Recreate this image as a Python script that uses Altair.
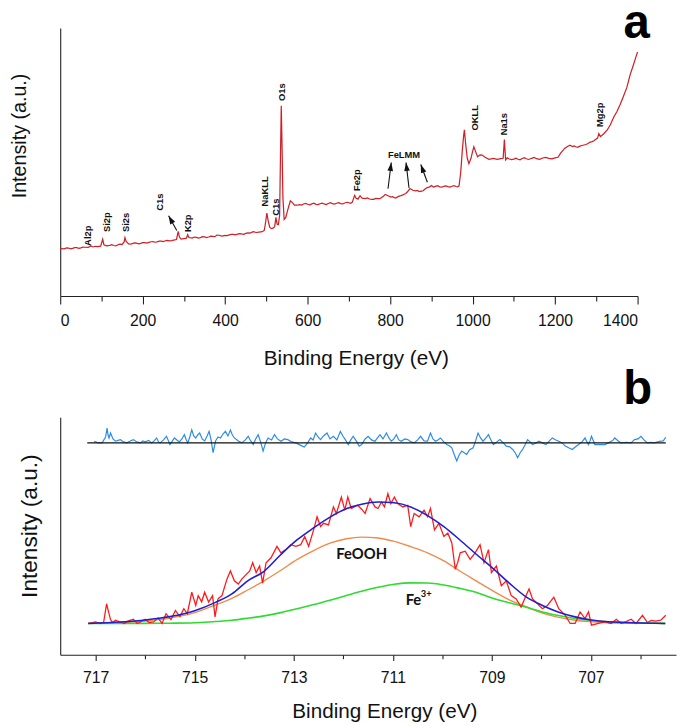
import altair as alt
import pandas as pd

# ---------------- Panel a : XPS survey ----------------
survey_e = [0, 10, 20, 30, 40, 50, 60, 68, 74, 80, 90, 98, 103, 106, 112, 120, 130, 140, 150, 155,
            157, 160, 166, 175, 185, 195, 205, 215, 225, 235, 245, 255, 265, 275, 282, 286, 289, 293, 300, 306,
            309, 312, 320, 330, 340, 350, 360, 370, 380, 385, 392, 400, 410, 420, 430, 440, 450, 460, 468, 475,
            482, 490, 495, 498, 501, 504, 508, 512, 516, 520, 523, 526, 529, 532, 534, 536, 538, 540, 543, 547,
            552, 558, 563, 568, 574, 580, 590, 600, 610, 620, 630, 640, 650, 660, 670, 680, 690, 700, 708, 712,
            714, 717, 722, 727, 732, 740, 750, 760, 770, 780, 788, 795, 802, 810, 818, 826, 834, 842, 848, 855,
            862, 870, 876, 884, 892, 900, 910, 920, 930, 940, 950, 960, 967, 971, 975, 978, 980, 983, 987, 991,
            996, 1000, 1003, 1007, 1012, 1018, 1023, 1030, 1040, 1050, 1060, 1068, 1074, 1077, 1080, 1088, 1100, 1110, 1120, 1130,
            1143, 1155, 1170, 1185, 1200, 1207, 1213, 1218, 1223, 1230, 1236, 1242, 1250, 1260, 1270, 1280, 1290, 1298, 1303, 1306,
            1310, 1318, 1326, 1334, 1342, 1350, 1358, 1366, 1374, 1382, 1390, 1396, 1400,
            15, 25, 35, 45, 55, 85, 125, 135, 145, 170, 180, 190, 200, 210, 220, 230, 240, 250, 260, 270,
            325, 335, 345, 355, 365, 375, 405, 415, 425, 435, 445, 455,
            585, 595, 605, 615, 625, 635, 645, 655, 665, 675, 685, 695, 704,
            745, 755, 765, 775, 784, 806, 814, 822, 830, 838, 866, 880, 888, 896,
            905, 915, 925, 935, 945, 955, 963,
            1084, 1094, 1105, 1115, 1125, 1136, 1149, 1162, 1177, 1192,
            1246, 1255, 1265, 1275, 1285, 1294]
survey_i = [48.3, 48.0, 48.8, 48.5, 49.2, 49.0, 49.6, 49.4, 51.0, 49.9, 50.3, 50.8, 57.7, 52.0, 51.0, 51.6, 51.4, 52.2, 52.4, 55.0,
            59.3, 55.5, 53.0, 53.3, 53.8, 53.6, 54.4, 54.6, 55.3, 55.1, 55.9, 56.2, 56.0, 56.9, 57.5, 65.7, 60.0, 57.8, 58.4, 58.8,
            62.3, 59.5, 59.0, 59.6, 59.4, 60.2, 60.0, 60.6, 62.0, 61.8, 61.0, 61.7, 62.1, 62.6, 62.9, 63.1, 63.7, 64.0, 65.5, 64.6,
            65.0, 65.4, 67.0, 75.0, 84.3, 77.0, 70.0, 68.5, 69.0, 70.5, 80.0, 73.0, 72.5, 82.0, 140.0, 193.3, 150.0, 100.0, 78.0, 80.0,
            88.0, 96.7, 95.0, 92.5, 92.3, 93.0, 93.6, 93.3, 93.7, 93.2, 93.8, 93.6, 94.1, 93.9, 94.3, 94.0, 94.6, 94.8, 95.2, 100.0,
            102.3, 99.5, 98.5, 102.0, 99.5, 99.0, 98.6, 98.3, 99.0, 100.5, 103.3, 102.0, 100.5, 100.0, 100.8, 102.0, 103.5, 106.0, 109.3, 107.5,
            107.0, 106.2, 106.7, 108.5, 110.5, 112.3, 111.5, 111.0, 111.4, 111.2, 111.6, 111.3, 111.7, 125.0, 148.0, 162.0, 169.0, 155.0, 140.0, 134.5,
            140.0, 147.0, 151.7, 147.0, 141.5, 143.5, 143.3, 141.0, 139.0, 139.8, 138.9, 139.6, 140.0, 159.0, 138.3, 139.5, 139.2, 139.0, 139.8, 139.5,
            140.0, 139.6, 140.3, 140.0, 140.5, 141.0, 145.0, 147.5, 150.0, 152.0, 153.3, 152.0, 151.7, 152.3, 153.5, 155.0, 157.0, 159.0, 160.5, 165.0,
            162.0, 165.0, 168.5, 174.0, 181.7, 187.5, 195.0, 203.3, 212.0, 225.0, 235.0, 243.0, 248.0,
            49.0, 47.9, 49.3, 48.6, 49.8, 50.6, 52.2, 51.0, 52.8, 52.7, 54.0, 53.1, 54.3, 53.9, 55.2, 54.7, 55.8, 55.4, 56.5, 56.3,
            60.0, 59.0, 60.3, 59.5, 60.8, 60.4, 61.4, 62.6, 62.3, 63.5, 62.8, 64.2,
            92.4, 94.2, 92.8, 94.3, 92.9, 94.5, 93.0, 94.8, 93.5, 95.0, 93.6, 95.3, 94.2,
            99.7, 98.2, 99.3, 98.9, 101.5, 100.9, 99.6, 101.6, 102.6, 104.2, 107.4, 107.0, 109.8, 111.0,
            110.8, 112.2, 110.6, 112.0, 110.7, 112.1, 110.9,
            140.4, 138.6, 140.2, 138.5, 140.6, 138.8, 140.8, 139.0, 141.0, 139.4,
            152.6, 151.2, 153.0, 154.0, 156.5, 157.8]

peak_labels = ["Al2p", "Si2p", "Si2s", "C1s", "K2p", "NaKLL", "C1s", "O1s", "Fe2p", "OKLL", "Na1s", "Mg2p"]
peak_label_e = [67, 113, 159, 243, 310.6, 497.6, 523, 539, 720.6, 1005, 1077, 1310]
peak_label_i = [51, 65, 65, 86.7, 65, 91, 81.7, 198.3, 106.7, 168.3, 163.3, 171.7]

group_label = ["FeLMM"]
group_label_e = [833.7]
group_label_i = [143.3]

arrow_e1 = [282.6, 794.8, 845.7, 890.3]
arrow_i1 = [66.7, 109.0, 110.0, 115.7]
arrow_e2 = [262.8, 802.7, 838.5, 874.3]
arrow_i2 = [81.7, 135.7, 135.7, 133.7]
arrow_angle = [331, 7, 353, 340]

panel_letters = ["a", "b"]
panel_letter_e = [1397.6, 1400]
panel_letter_i = [262, -110]

# ---------------- Panel b : Fe 2p3/2 high resolution ----------------
raw_e = [717.15, 717.08, 717.0, 716.92, 716.84, 716.78, 716.74, 716.7, 716.66, 716.6, 716.5, 716.42, 716.35, 716.24, 716.16,
         716.08, 716.0, 715.92, 715.83, 715.74, 715.66, 715.58, 715.48, 715.39, 715.3, 715.22, 715.15, 715.06, 714.98, 714.93,
         714.86, 714.8, 714.72, 714.64, 714.59, 714.53, 714.45, 714.35, 714.28, 714.2, 714.12, 714.05, 713.99, 713.89, 713.83,
         713.76, 713.69, 713.63, 713.56, 713.46, 713.34, 713.26, 713.16, 713.06, 712.96, 712.86, 712.78, 712.7, 712.6, 712.53,
         712.46, 712.4, 712.3, 712.2, 712.14, 712.04, 711.97, 711.91, 711.84, 711.71, 711.63, 711.56, 711.46, 711.36, 711.3,
         711.23, 711.17, 711.1, 711.04, 710.97, 710.9, 710.8, 710.7, 710.64, 710.57, 710.47, 710.37, 710.3, 710.24, 710.16,
         710.07, 709.97, 709.89, 709.81, 709.74, 709.69, 709.64, 709.54, 709.44, 709.34, 709.24, 709.16, 709.07, 709.01, 708.91,
         708.81, 708.71, 708.61, 708.51, 708.41, 708.31, 708.25, 708.18, 708.08, 707.98, 707.88, 707.75, 707.65, 707.52, 707.42,
         707.32, 707.22, 707.12, 707.05, 706.99, 706.85, 706.72, 706.59, 706.49, 706.39, 706.29, 706.19, 706.09, 705.96, 705.86,
         705.78, 705.69, 705.59, 705.49]
raw_i = [0, 0.5, 1.7, 0, 1, 20, 11.7, 4, 1, 3.3, 1.5, 0, 2.5, 4.3, 0,
         2, 4.3, 1, 1.5, 5.7, 0, 10, 4, 13.3, 7, 15, 10, 31.7, 18.3, 28.3,
         22, 31.7, 21.7, 28.3, 6.7, 25, 28.3, 45, 53.3, 43.3, 40, 45, 48.3, 53.3, 61.7,
         51.7, 58.3, 41, 61.7, 66.7, 78.3, 71.7, 75, 80, 78.3, 80, 88.3, 78.3, 95, 108.3,
         98.3, 101.7, 100, 118.3, 111.7, 128.3, 115, 128.3, 116.7, 120, 116, 111.7, 126.7, 118.3, 116.7,
         123.3, 118.3, 131.7, 121.7, 128.3, 121.7, 118.3, 120, 98.3, 111.7, 108.3, 115, 108.3, 116.7, 95,
         101.7, 88.3, 91.7, 81.7, 55, 62, 71.7, 73.3, 65, 71.7, 80, 61.7, 75, 51.7, 58.3,
         38.3, 43.3, 28.3, 25, 16.7, 28.3, 35, 25, 20, 15, 18.3, 26.7, 15, 8.3, 0,
         0, 11.7, 5, 11.7, -1.7, 0, 1.7, 0, 4.3, 0, 2, 4.3, 0, 8.3, 1,
         3, 2.3, 3.3, 8.3]

fit_e = [717.15, 716.5, 716.0, 715.5, 715.0, 714.57, 714.25, 713.93, 713.6, 713.26, 712.93, 712.6, 712.27, 711.94, 711.63, 711.3,
         710.97, 710.64, 710.3, 709.97, 709.64, 709.31, 708.98, 708.65, 708.31, 707.98, 707.65, 707.32, 706.99, 706.65, 706.0, 705.5]
envelope_i = [0, 1.5, 3.5, 7, 13, 21.7, 30, 43.3, 53, 70, 85, 97, 108, 116.5, 121, 123.3,
              122.5, 118.3, 109.5, 98.3, 84.5, 70, 56, 41, 27, 18.3, 11.5, 6.7, 3.5, 1.7, 0.5, 0]
feooh_i = [0.3, 1, 2.5, 5.5, 11, 19, 25.5, 34, 43.3, 54, 65, 74, 81.5, 86, 87.7, 86.8,
           83.3, 78, 71.7, 63.5, 53, 43, 33, 24, 17, 10.5, 6.2, 3.3, 1.8, 0.8, 0.2, 0]
fe3_i = [0, 0, 0.1, 0.3, 0.8, 2, 3.3, 5.3, 7.7, 11, 15, 19.2, 23.5, 28.5, 32.8, 36.7,
         39.8, 41.2, 41, 39, 35.5, 31.5, 25.5, 21, 16.5, 11.7, 8, 5, 3, 1.7, 0.5, 0.1]

residual_offset = 183.3
resid_e = [717.03, 716.95, 716.87, 716.8, 716.77, 716.75, 716.73, 716.7, 716.65, 716.6, 716.55, 716.5, 716.44, 716.37, 716.3,
           716.24, 716.17, 716.1, 716.05, 716.0, 715.93, 715.87, 715.82, 715.77, 715.73, 715.7, 715.63, 715.57, 715.53, 715.5,
           715.45, 715.41, 715.36, 715.31, 715.26, 715.21, 715.17, 715.14, 715.1, 715.06, 715.02, 714.98, 714.94, 714.9, 714.85,
           714.8, 714.75, 714.71, 714.67, 714.63, 714.6, 714.58, 714.53, 714.48, 714.43, 714.38, 714.33, 714.28, 714.24, 714.2,
           714.12, 714.05, 713.98, 713.92, 713.87, 713.82, 713.77, 713.72, 713.67, 713.62, 713.57, 713.52, 713.45, 713.39, 713.33,
           713.26, 713.19, 713.12, 713.04, 712.96, 712.88, 712.79, 712.72, 712.66, 712.61, 712.56, 712.51, 712.46, 712.4, 712.33,
           712.27, 712.2, 712.13, 712.06, 712.01, 711.96, 711.9, 711.85, 711.8, 711.74, 711.68, 711.63, 711.56, 711.5, 711.43,
           711.36, 711.31, 711.26, 711.2, 711.13, 711.08, 711.03, 710.98, 710.93, 710.88, 710.83, 710.76, 710.7, 710.63, 710.57,
           710.5, 710.44, 710.37, 710.3, 710.27, 710.24, 710.19, 710.14, 710.09, 710.04, 709.97, 709.91, 709.86, 709.81, 709.76,
           709.71, 709.66, 709.61, 709.56, 709.51, 709.45, 709.38, 709.33, 709.28, 709.23, 709.18, 709.12, 709.07, 709.02, 708.97,
           708.9, 708.84, 708.77, 708.71, 708.64, 708.58, 708.53, 708.48, 708.43, 708.38, 708.33, 708.28, 708.23, 708.18, 708.11,
           708.05, 707.98, 707.91, 707.84, 707.78, 707.71, 707.65, 707.58, 707.52, 707.45, 707.38, 707.31, 707.25, 707.18, 707.12,
           707.08, 707.05, 707.02, 706.99, 706.95, 706.92, 706.82, 706.72, 706.65, 706.59, 706.55, 706.52, 706.45, 706.39, 706.29,
           706.19, 706.15, 706.12, 706.05, 705.99, 705.93, 705.86, 705.79, 705.72, 705.65, 705.59, 705.54, 705.49]
resid_i = [1.7, 0, 0, 6, 15, 8, 5, 10, 4, 1.7, 2.5, 3.3, 1, 0, 2,
           3.3, 1, 0, 2, 1, 2.5, 0, 2, 5, 1, 0, 3, 6.7, 2, -1.7,
           2, 5, 3, 1, 4, 8.3, 3, 0, 6, 13.3, 7, 5, 8, 10, 4,
           2, 7, 11.7, 3, -10, -3, 2, 6, 5, 9, 11.7, 7, 13, 8, 5,
           2, 0, 3, 6.7, 2, -1.7, 4, 8.3, 1, -8.3, 0, 5, 3, 8.3, 4,
           1.7, 4, 3.3, 1, 0, -2, -4.3, 0, 5, 3, 10, 6, 3.3, 7, 10,
           4, 6.7, 3, 11.7, 7, 3.3, -1.7, 3, 6.7, 2, -3.3, -1.7, 4, 6.7, 3,
           1.7, 5, 8.3, 4, 10, 5, 1.7, 4, 8.3, 3, 1.7, 4, 3.3, 1, 0,
           3, 6.7, 2, 1.7, 6, 10, 4, 1.7, 3, 5, 1, -1.7, -3, -5, -12,
           -18.3, -12, -8.3, -10, -11.7, -7, -5, 2, 10, 5, 1.7, 5, 8.3, 3, -1.7,
           1, 3.3, 0, -3.3, -4, -6.7, -10, -15, -10, -6.7, -2, 3.3, 1, -1.7, 0,
           1.7, 0, -1.7, 2, 5, 3, 1.7, 0, -3.3, -5, -6.7, -4, -1.7, 1, 5,
           1, -1.7, 2, 6.7, 2, -1.7, -1.7, -1.7, 0, 1.7, 3, 5, 2, 0, 0.5,
           0, 2, 3.3, 4, 6.7, 3, 0, 0.5, 0, 1, 1.7, 2, 5.7]
zero_line_e = [717.17, 705.49]

fit_labels = ["FeOOH", "Fe"]
fit_label_e = [711.63, 710.585]
fit_label_i = [65, 18.3]
sup_label = ["3+"]
sup_label_e = [710.435]
sup_label_i = [26.7]

# ---------------- tables ----------------
survey_df = pd.DataFrame({"e": survey_e, "i": survey_i})
plab_df = pd.DataFrame({"e": peak_label_e, "i": peak_label_i, "t": peak_labels})
glab_df = pd.DataFrame({"e": group_label_e, "i": group_label_i, "t": group_label})
arrow_df = pd.DataFrame({"e": arrow_e1, "i": arrow_i1, "e2": arrow_e2, "i2": arrow_i2, "ang": arrow_angle})
arrowhead_df = pd.DataFrame({"e": arrow_e2, "i": arrow_i2, "ang": arrow_angle})
letter_df = pd.DataFrame({"e": panel_letter_e, "i": panel_letter_i, "t": panel_letters})

raw_df = pd.DataFrame({"e": raw_e, "i": raw_i})
env_df = pd.DataFrame({"e": fit_e, "i": envelope_i})
feooh_df = pd.DataFrame({"e": fit_e, "i": feooh_i})
fe3_df = pd.DataFrame({"e": fit_e, "i": fe3_i})
resid_df = pd.DataFrame({"e": resid_e, "i": [residual_offset + v for v in resid_i]})
zero_df = pd.DataFrame({"e": zero_line_e, "i": [residual_offset] * len(zero_line_e)})
flab_df = pd.DataFrame({"e": fit_label_e, "i": fit_label_i, "t": fit_labels})
sup_df = pd.DataFrame({"e": sup_label_e, "i": sup_label_i, "t": sup_label})

FONT = "Liberation Sans"

# ---------------- panel a encodings ----------------
top_xaxis = alt.Axis(values=list(range(0, 1401, 100)), format="d",
                     labelExpr="datum.value % 200 === 0 ? datum.label : ''",
                     tickSize={"condition": {"test": "datum.value % 200 === 0", "value": 8}, "value": 5},
                     labelFontSize=16, labelPadding=9, title="Binding Energy (eV)", titleFontSize=21,
                     titlePadding=19, titleX=300, titleAlign="center")
top_yaxis = alt.Axis(ticks=False, labels=False, title="Intensity (a.u.)", titleFontSize=20,
                     titleAngle=270, titleX=-31, titleY=109, titleAlign="center", titleBaseline="bottom")
top_xscale = alt.Scale(domain=[0, 1400], nice=False, zero=False)
top_yscale = alt.Scale(domain=[0, 272.3], nice=False, zero=False)


def tx(field="e"):
    return alt.X(f"{field}:Q", scale=top_xscale, axis=top_xaxis)


def ty(field="i"):
    return alt.Y(f"{field}:Q", scale=top_yscale, axis=top_yaxis)


survey_line = alt.Chart(survey_df).mark_line(color="#cf2027", strokeWidth=1.25).encode(x=tx(), y=ty())
peak_text = alt.Chart(plab_df).mark_text(angle=270, align="left", baseline="middle", fontSize=9.5,
                                         fontWeight="bold", font=FONT, color="#111").encode(x=tx(), y=ty(), text="t:N")
group_text = alt.Chart(glab_df).mark_text(align="center", baseline="middle", fontSize=9.5,
                                          fontWeight="bold", font=FONT, color="#111").encode(x=tx(), y=ty(), text="t:N")
arrow_shaft = alt.Chart(arrow_df).mark_rule(color="#111", strokeWidth=1.1).encode(
    x=tx(), y=ty(), x2=alt.X2("e2:Q"), y2=alt.Y2("i2:Q"))
arrow_head = alt.Chart(arrowhead_df).mark_point(shape="M0,0L0.6,1.8L-0.6,1.8Z", filled=True, size=90,
                                                color="#111", opacity=1).encode(
    x=tx(), y=ty(), angle=alt.Angle("ang:Q", scale=None))
letters = alt.Chart(letter_df).mark_text(align="center", baseline="alphabetic", fontSize=48,
                                         fontWeight="bold", font=FONT, color="#000").encode(x=tx(), y=ty(), text="t:N")

top = alt.layer(survey_line, peak_text, group_text, arrow_shaft, arrow_head, letters).properties(width=586, height=272)

# ---------------- panel b encodings ----------------
bot_xaxis = alt.Axis(values=list(range(706, 718)), format="d",
                     labelExpr="datum.value % 2 === 1 ? datum.label : ''",
                     tickSize={"condition": {"test": "datum.value % 2 === 1", "value": 6}, "value": 4},
                     labelFontSize=16, labelPadding=9, title="Binding Energy (eV)", titleFontSize=21,
                     titlePadding=16, titleX=329, titleAlign="center")
bot_yaxis = alt.Axis(ticks=False, labels=False, title="Intensity (a.u.)", titleFontSize=23,
                     titleAngle=270, titleX=-19, titleY=110, titleAlign="center", titleBaseline="bottom")
bot_xscale = alt.Scale(domain=[705.283, 717.716], nice=False, zero=False, reverse=True)
bot_yscale = alt.Scale(domain=[-31.7, 209.3], nice=False, zero=False)


def bx(field="e"):
    return alt.X(f"{field}:Q", scale=bot_xscale, axis=bot_xaxis)


def by(field="i"):
    return alt.Y(f"{field}:Q", scale=bot_yscale, axis=bot_yaxis)


feooh_line = alt.Chart(feooh_df).mark_line(color="#f08a4b", strokeWidth=1.4, interpolate="monotone").encode(x=bx(), y=by())
fe3_line = alt.Chart(fe3_df).mark_line(color="#2edb2e", strokeWidth=1.6, interpolate="monotone").encode(x=bx(), y=by())
raw_line = alt.Chart(raw_df).mark_line(color="#ff1a1a", strokeWidth=1.3).encode(x=bx(), y=by())
env_line = alt.Chart(env_df).mark_line(color="#1f1fcf", strokeWidth=1.6, interpolate="monotone").encode(x=bx(), y=by())
resid_line = alt.Chart(resid_df).mark_line(color="#2b8be6", strokeWidth=1.2).encode(x=bx(), y=by())
zero_line = alt.Chart(zero_df).mark_line(color="#111", strokeWidth=1.3).encode(x=bx(), y=by())
fit_text = alt.Chart(flab_df).mark_text(align="center", baseline="alphabetic", fontSize=15, fontWeight="bold",
                                        font="Lato", color="#111").encode(x=bx(), y=by(), text="t:N")
sup_text = alt.Chart(sup_df).mark_text(align="left", baseline="alphabetic", fontSize=9.5, fontWeight="bold",
                                       font="Lato", color="#111").encode(x=bx(), y=by(), text="t:N")

bottom = alt.layer(feooh_line, fe3_line, raw_line, env_line, resid_line, zero_line, fit_text, sup_text).properties(
    width=625, height=241)

chart = alt.vconcat(top, bottom, spacing=1).properties(
    padding={"left": 1, "top": -14, "right": 0, "bottom": 0}
).configure_view(stroke="transparent").configure_axis(
    domainColor="#222", tickColor="#222", labelColor="#111", titleColor="#111", grid=False,
    labelFont=FONT, titleFont=FONT, titleFontWeight="normal", domainWidth=1.1, tickWidth=1.1
)

chart.save("out.html", embed_options={"renderer": "svg", "actions": False})
